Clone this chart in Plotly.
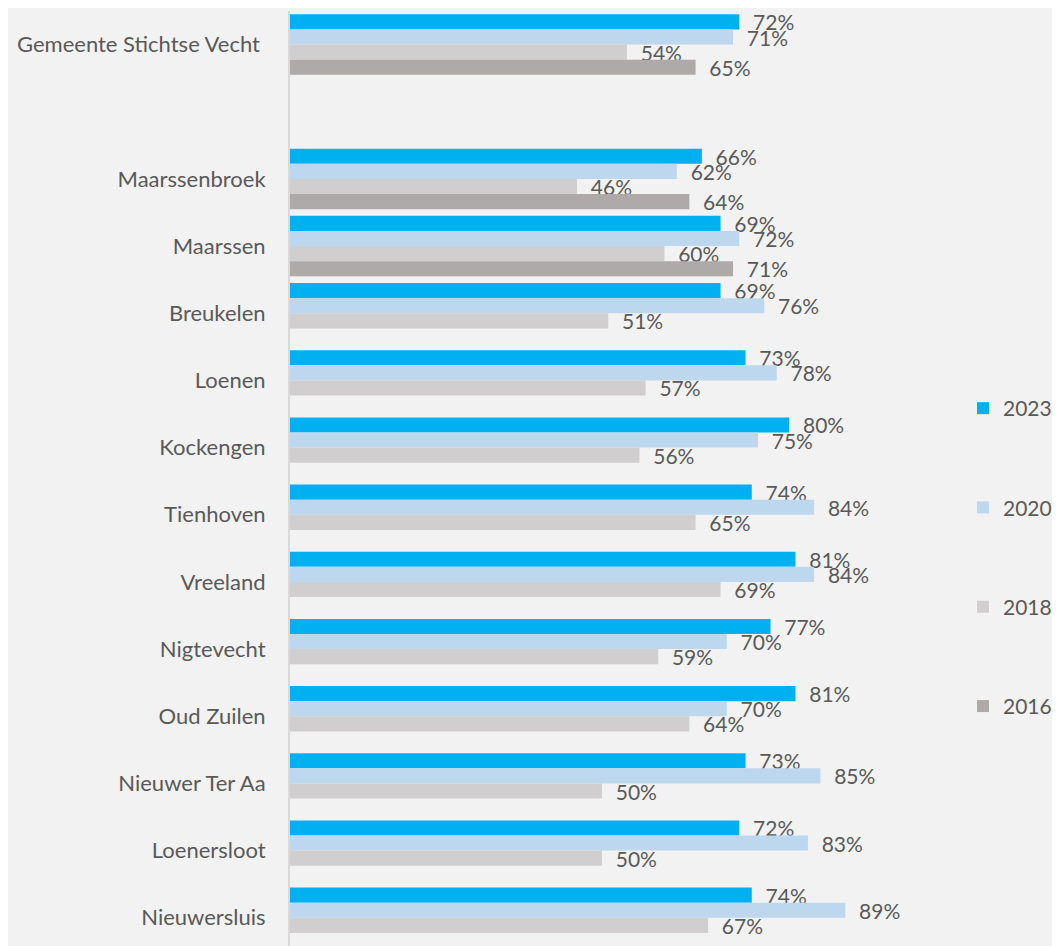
import plotly.graph_objects as go

# Categories top to bottom (" " is the empty spacer row)
categories = ["Gemeente Stichtse Vecht\u00a0", " ", "Maarssenbroek", "Maarssen", "Breukelen",
              "Loenen", "Kockengen", "Tienhoven", "Vreeland", "Nigtevecht",
              "Oud Zuilen", "Nieuwer Ter Aa", "Loenersloot", "Nieuwersluis"]

years = ["2023", "2020", "2018", "2016"]

v2023 = [72, None, 66, 69, 69, 73, 80, 74, 81, 77, 81, 73, 72, 74]
v2020 = [71, None, 62, 72, 76, 78, 75, 84, 84, 70, 70, 85, 83, 89]
v2018 = [54, None, 46, 60, 51, 57, 56, 65, 69, 59, 64, 50, 50, 67]
v2016 = [65, None, 64, 71, None, None, None, None, None, None, None, None, None, None]

series = [v2023, v2020, v2018, v2016]
colors = ["#00B0F0", "#BDD7EE", "#D0CECE", "#AEAAAA"]

FONT = "Lato"
TXT = "#595959"

# page body has an 8px margin, so the figure is a bit smaller than the window
W, H = 1052, 938

fig = go.Figure()
for yr, vals, col in zip(years, series, colors):
    fig.add_trace(go.Bar(
        y=categories,
        x=vals,
        orientation="h",
        name=yr,
        legendgroup=yr,
        marker=dict(color=col, line=dict(width=0)),
        text=["\u00a0\u00a0" + f"{v}%" if v is not None else "" for v in vals],
        textposition="outside",
        constraintext="none",
        cliponaxis=False,
        textfont=dict(family=FONT, size=21, color=TXT),
        hoverinfo="skip",
    ))

fig.update_layout(
    width=W,
    height=H,
    barmode="group",
    bargap=0.1,
    bargroupgap=0,
    paper_bgcolor="#F2F2F2",
    plot_bgcolor="#F2F2F2",
    margin=dict(l=282, r=146, t=3, b=0),
    font=dict(family=FONT, size=21, color=TXT),
    xaxis=dict(range=[0, 100], showgrid=False, showticklabels=False,
               zeroline=False, showline=False),
    yaxis=dict(categoryorder="array", categoryarray=categories,
               range=[13.42, -0.5], showgrid=False, zeroline=False,
               showline=True, linecolor="#D9D9D9", linewidth=2,
               ticks="", ticklabelstandoff=18,
               tickfont=dict(family=FONT, size=22, color=TXT)),
    legend=dict(xref="container", yref="container", x=955 / W, y=1 - 380 / H,
                xanchor="left", yanchor="top", tracegroupgap=69,
                font=dict(family=FONT, size=21, color=TXT),
                bgcolor="rgba(0,0,0,0)", itemwidth=30),
    showlegend=True,
)

fig.write_html("out.html")
